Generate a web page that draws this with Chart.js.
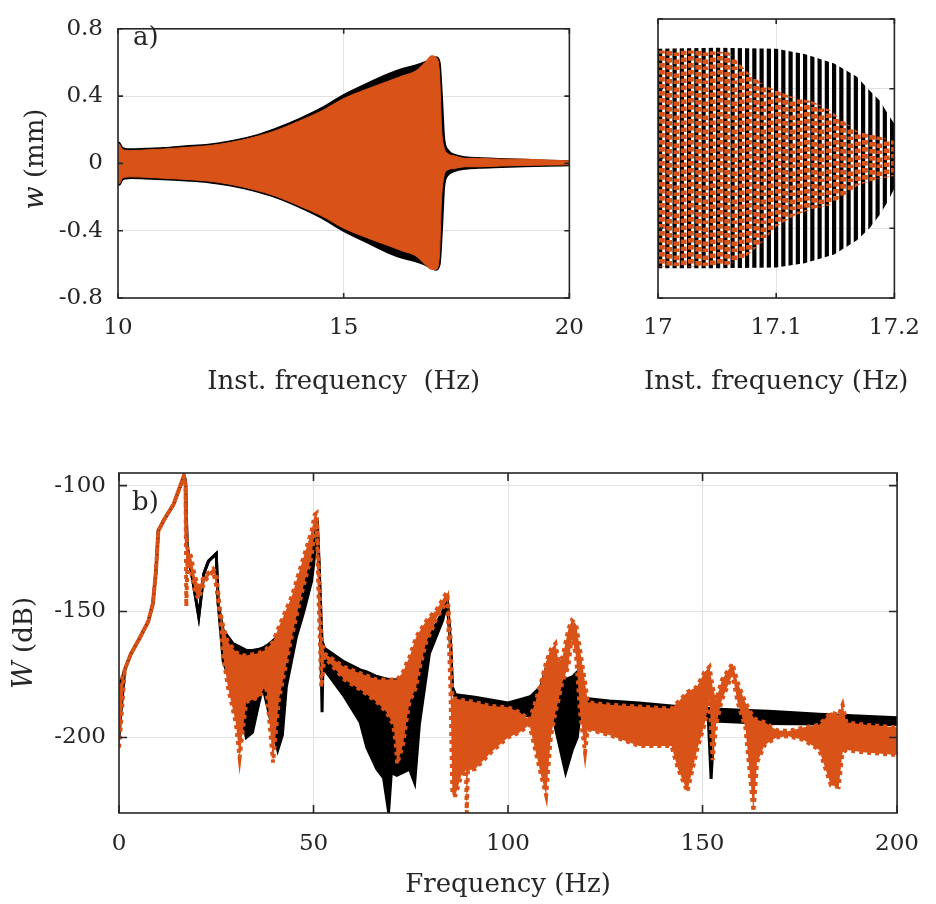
<!DOCTYPE html>
<html>
<head>
<meta charset="utf-8">
<title>Sweep response and spectrum</title>
<script src="https://cdn.jsdelivr.net/npm/chart.js@4.4.1/dist/chart.umd.min.js"></script>
<style>
    html, body { margin: 0; padding: 0; background: #fff; }
    #page { position: relative; width: 936px; height: 904px; overflow: hidden; }
    .panel { position: absolute; }
    #panelA { left: 0; top: 0; width: 600px; height: 410px; }
    #panelB { left: 600px; top: 0; width: 336px; height: 410px; }
    #panelC { left: 0; top: 440px; width: 936px; height: 464px; }
</style>
</head>
<body>
<div id="page">
    <div class="panel" id="panelA"><canvas id="sweepChart"></canvas></div>
    <div class="panel" id="panelB"><canvas id="zoomChart"></canvas></div>
    <div class="panel" id="panelC"><canvas id="spectrumChart"></canvas></div>
</div>
<script>
// ---- a) displacement envelope vs instantaneous frequency ----
const sweepFreq = [10, 10.03, 10.08, 10.15, 10.3, 10.6, 11, 11.5, 12, 12.5,
    13, 13.5, 14, 14.5, 15, 15.5, 16, 16.3, 16.6, 16.8,
    16.95, 17.05, 17.12, 17.17, 17.22, 17.3, 17.45, 17.7, 18, 18.5,
    19, 19.5, 20];
const sweepBlackUpper = [0.125, 0.12, 0.095, 0.085, 0.082, 0.085, 0.09, 0.1, 0.11, 0.13,
    0.16, 0.205, 0.26, 0.325, 0.405, 0.47, 0.53, 0.56, 0.58, 0.6,
    0.62, 0.63, 0.6, 0.4, 0.15, 0.08, 0.05, 0.035, 0.03, 0.025,
    0.02, 0.015, 0.012];
const sweepBlackLower = [-0.125, -0.125, -0.1, -0.088, -0.085, -0.088, -0.093, -0.1, -0.11, -0.13,
    -0.16, -0.2, -0.255, -0.32, -0.4, -0.465, -0.53, -0.56, -0.58, -0.6,
    -0.62, -0.63, -0.6, -0.4, -0.14, -0.07, -0.045, -0.03, -0.025, -0.02,
    -0.015, -0.012, -0.01];
const sweepOrangeUpper = [0.12, 0.115, 0.09, 0.078, 0.076, 0.08, 0.085, 0.095, 0.105, 0.125,
    0.155, 0.195, 0.25, 0.31, 0.385, 0.44, 0.49, 0.52, 0.55, 0.6,
    0.64, 0.63, 0.55, 0.2, 0.1, 0.06, 0.045, 0.03, 0.03, 0.025,
    0.025, 0.02, 0.015];
const sweepOrangeLower = [-0.12, -0.12, -0.095, -0.082, -0.08, -0.082, -0.088, -0.095, -0.105, -0.125,
    -0.155, -0.195, -0.25, -0.31, -0.385, -0.44, -0.49, -0.52, -0.55, -0.6,
    -0.63, -0.63, -0.55, -0.2, -0.08, -0.04, -0.03, -0.02, -0.02, -0.015,
    -0.012, -0.01, -0.008];
const sweepFreqTicks = [10, 15, 20];
const sweepFreqLabels = ['10', '15', '20'];
const dispTicks = [-0.8, -0.4, 0, 0.4, 0.8];
const dispTickLabels = ['-0.8', '-0.4', '0', '0.4', '0.8'];

// ---- zoom on 17 - 17.2 Hz ----
const zoomBlackFreq = [17, 17.05, 17.1, 17.124, 17.149, 17.168, 17.179, 17.188, 17.195, 17.2];
const zoomBlackUpper = [0.63, 0.635, 0.63, 0.6, 0.545, 0.47, 0.39, 0.33, 0.25, 0.2];
const zoomBlackLower = [-0.63, -0.63, -0.625, -0.6, -0.55, -0.47, -0.4, -0.32, -0.24, -0.17];
const zoomOrangeFreq = [17, 17.03, 17.06, 17.075, 17.09, 17.1, 17.115, 17.13, 17.145, 17.16, 17.17, 17.185, 17.2];
const zoomOrangeUpper = [0.62, 0.62, 0.61, 0.5, 0.42, 0.39, 0.35, 0.33, 0.28, 0.2, 0.15, 0.13, 0.1];
const zoomOrangeLower = [-0.62, -0.62, -0.61, -0.56, -0.47, -0.39, -0.33, -0.29, -0.27, -0.2, -0.15, -0.12, -0.1];
const zoomFreqTicks = [17, 17.1, 17.2];
const zoomFreqLabels = ['17', '17.1', '17.2'];

// ---- b) spectrum ----
const specBlackFreq = [0, 0.5, 1.5, 3, 5.5, 7.5, 8.7, 9.5, 10.1, 11.6,
    14, 16.7, 17.1, 17.5, 19, 20.5, 21.8, 23, 25, 25.5,
    26.8, 29.3, 31, 32.7, 34.3, 36, 37, 38.5, 40.8, 42,
    43, 45.6, 47.5, 49.5, 50.5, 51, 51.5, 52.2, 52.5, 52.8,
    57.9, 62, 63.7, 66.3, 68, 69.3, 70, 71.4, 74.7, 76,
    77.2, 79.8, 83.2, 84.4, 85.3, 85.7, 86.5, 91.5, 100, 103,
    105.9, 108.4, 110.1, 111, 112, 113.5, 114.8, 116.5, 117.8, 118.6,
    119.5, 126, 133.7, 145.5, 151.5, 152.2, 153, 160, 167, 180,
    200];
const specBlackUpper = [-180, -178, -173, -167, -160, -154, -147, -134, -118, -113.5,
    -107.5, -96.5, -98, -124, -138, -152, -135, -130, -127, -147,
    -157.5, -162.7, -164, -165.4, -165.5, -165, -164.5, -163, -160, -157,
    -154, -146, -137, -124, -114, -114, -134, -162, -163, -164.6,
    -170, -173.2, -174, -175.8, -176.5, -177, -177, -177.2, -174, -170,
    -166, -160, -150, -145, -164, -180, -183, -184, -186.3, -185,
    -183.7, -179.8, -170.6, -166.7, -172, -176, -177, -176, -174, -173.2,
    -184.4, -185.5, -186.3, -188, -188.5, -188.5, -188.7, -189.2, -189.6, -190.8,
    -192.2];
const specBlackLower = [-200, -190, -173, -167, -160, -154, -147, -134, -118, -113.5,
    -107.5, -96.5, -98, -124, -138, -152, -135, -130, -127, -147,
    -170, -180, -186, -200, -198, -186, -180, -190, -205, -199,
    -180, -160, -150, -138, -125, -118, -134, -190, -165, -173,
    -183.7, -194, -204, -212.6, -216, -229.5, -214, -215, -212.6, -218,
    -195, -166.6, -153.5, -146, -166, -181, -184.5, -186, -188.7, -190,
    -192, -188, -180, -176, -195, -205, -213.9, -205, -200, -190,
    -188, -189, -190.5, -192.5, -193, -216.5, -193.5, -194, -194.5, -194.7,
    -194.9];
const specOrangeFreq = [0, 0.5, 1.5, 3, 5.5, 7.5, 8.7, 9.5, 10.1, 11.6,
    14, 16.7, 17.1, 17.3, 17.6, 18.5, 19.5, 20.5, 22, 24.2,
    25, 26, 26.8, 28, 30, 31, 32.7, 36, 37.8, 39.6,
    41.1, 44.4, 47.4, 49.5, 50.3, 50.8, 51.4, 52, 52.8, 57.9,
    62, 66.3, 68.8, 70.5, 71.2, 71.5, 73, 73.9, 74.7, 76.4,
    77.2, 79, 80.5, 81.5, 84, 84.4, 85.2, 85.7, 86.5, 88,
    89.2, 89.4, 89.7, 91.5, 95.6, 100, 103, 105.5, 107, 108.5,
    109.8, 111, 112.2, 113, 114, 115.5, 116.4, 117.5, 118.5, 119.8,
    120.5, 126, 133.7, 142, 143.6, 146.1, 148.6, 150.5, 151.8, 152.6,
    153.5, 155, 157.7, 159, 161, 163.1, 164, 166, 169, 172,
    176, 180, 183, 185, 186, 187, 192, 200];
const specOrangeUpper = [-180, -178, -173, -167, -160, -154, -147, -134, -118, -113.5,
    -107.5, -96, -100, -120, -125, -128, -136, -140, -136, -133,
    -135, -150, -156, -162, -166, -167, -167.5, -166.5, -165, -162,
    -156, -144, -128.6, -118, -111.5, -110.9, -134, -160, -166.6, -172,
    -174.5, -177, -177, -177, -177, -177, -174, -170.6, -168, -160,
    -158, -153.6, -151, -149.6, -143, -142.5, -160, -184.5, -184.5, -185,
    -185.5, -185.5, -185.5, -186, -187.5, -188, -190, -193, -186, -178,
    -170, -165, -162.7, -170, -168, -157, -153.5, -155, -165, -178,
    -186, -187, -187.7, -188.5, -186, -182, -179.8, -174, -171.9, -180,
    -185, -177, -170.6, -178, -186, -192, -193, -194, -197, -197.5,
    -196, -195, -190, -191, -187, -194, -195, -196];
const specOrangeLower = [-204, -195, -173, -167, -160, -154, -147, -134, -118, -113.5,
    -107.5, -96, -100, -148, -130, -134, -142, -145, -138, -134,
    -140, -152, -168, -180, -194, -208, -186, -184, -179, -210,
    -185, -160, -140, -128, -118, -113, -150, -180, -168, -177,
    -181, -186, -190, -195, -203.4, -210.6, -203, -193.4, -186, -180,
    -173, -162, -157, -153, -146.5, -145, -180, -223, -223, -215,
    -213, -230, -213, -212.6, -206, -200, -198, -195, -205, -215,
    -223, -200, -190, -185, -178, -172, -160, -168, -190, -206,
    -196.8, -199, -203.4, -203.4, -212, -221.6, -205, -195, -185, -209,
    -195, -185, -175, -186, -196, -229.5, -210, -203, -200, -199.5,
    -201, -205, -219, -219.7, -206, -205, -206, -207];
const specFreqTicks = [0, 50, 100, 150, 200];
const specFreqLabels = ['0', '50', '100', '150', '200'];
const specDbTicks = [-200, -150, -100];
const specDbLabels = ['-200', '-150', '-100'];

const INK = '#262626';
const GRID = '#e2e2e2';
const ORANGE = '#D95319';
const SERIF = "'DejaVu Serif', serif";

Chart.defaults.font.family = SERIF;
Chart.defaults.color = INK;

// Pair two arrays into {x, y} points
const toPoints = (xs, ys) => xs.map((x, i) => ({ x: x, y: ys[i] }));

// Upper and lower curves of one signal, filled in between
const band = (xs, upper, lower, style) => [
    Object.assign({ data: toPoints(xs, upper), fill: '+1' }, style),
    Object.assign({ data: toPoints(xs, lower), fill: false }, style)
];

// Vertical stripes for the black oscillation in the zoom panel
const stripePattern = (ctx) => {
    const tile = document.createElement('canvas');
    tile.width = 29;
    tile.height = 4;
    const t = tile.getContext('2d');
    t.fillStyle = '#000';
    for (let k = 0; k < 4; k++) t.fillRect(k * 7.25, 0, 4.2, 4);
    return ctx.createPattern(tile, 'repeat');
};

// Square dots of the orange dotted curve in the zoom panel
const dotPattern = (ctx) => {
    const tile = document.createElement('canvas');
    tile.width = 29;
    tile.height = 14;
    const t = tile.getContext('2d');
    t.fillStyle = ORANGE;
    const shifts = [0, 2, 3.5, 1.5];
    for (let k = 0; k < 4; k++) {
        for (let r = 0; r < 2; r++) {
            t.fillRect(k * 7.25 + 1, r * 7 + shifts[k], 5.8, 4.6);
        }
    }
    return ctx.createPattern(tile, 'repeat');
};

// Box, inward ticks, y label with italic symbol, panel tag
const axesFrame = {
    id: 'axesFrame',
    afterDatasetsDraw(chart, args, opts) {
        const { ctx, chartArea: a, scales } = chart;
        const len = opts.tickLength || 6;
        ctx.save();
        ctx.strokeStyle = INK;
        ctx.lineWidth = 1.6;
        ctx.beginPath();
        scales.x.ticks.forEach(t => {
            const px = scales.x.getPixelForValue(t.value);
            ctx.moveTo(px, a.bottom); ctx.lineTo(px, a.bottom - len);
            ctx.moveTo(px, a.top); ctx.lineTo(px, a.top + len);
        });
        scales.y.ticks.forEach(t => {
            const py = scales.y.getPixelForValue(t.value);
            ctx.moveTo(a.left, py); ctx.lineTo(a.left + len, py);
            ctx.moveTo(a.right, py); ctx.lineTo(a.right - len, py);
        });
        ctx.stroke();
        ctx.strokeRect(a.left, a.top, a.right - a.left, a.bottom - a.top);
        ctx.restore();
    },
    afterDraw(chart, args, opts) {
        const { ctx, chartArea: a } = chart;
        ctx.save();
        ctx.fillStyle = INK;
        if (opts.yTitle) {
            const [sym, rest] = opts.yTitle;
            const italic = 'italic 27px ' + SERIF;
            const normal = '26px ' + SERIF;
            ctx.font = italic;
            const w1 = ctx.measureText(sym).width;
            ctx.font = normal;
            const w2 = ctx.measureText(rest).width;
            ctx.translate(opts.yTitleX, opts.yTitleY);
            ctx.rotate(-Math.PI / 2);
            ctx.textBaseline = 'middle';
            ctx.textAlign = 'left';
            ctx.font = italic;
            ctx.fillText(sym, -(w1 + w2) / 2, 0);
            ctx.font = normal;
            ctx.fillText(rest, -(w1 + w2) / 2 + w1, 0);
            ctx.setTransform(1, 0, 0, 1, 0, 0);
        }
        if (opts.xTitle) {
            // drawn here so the text is not squeezed to the narrow plot width
            ctx.font = '26px ' + SERIF;
            ctx.textBaseline = 'middle';
            ctx.textAlign = 'center';
            ctx.fillText(opts.xTitle, (a.left + a.right) / 2, opts.xTitleY);
        }
        if (opts.tag) {
            ctx.font = '26px ' + SERIF;
            ctx.textBaseline = 'alphabetic';
            ctx.textAlign = 'left';
            ctx.fillText(opts.tag, opts.tagX, opts.tagY);
        }
        ctx.restore();
    }
};

// Linear axis with fixed ticks and a fixed box size
const axis = (cfg) => ({
    type: 'linear',
    min: cfg.min,
    max: cfg.max,
    afterBuildTicks: s => { s.ticks = cfg.ticks.map(v => ({ value: v })); },
    afterFit: s => { if (cfg.width !== undefined) s.width = cfg.width; if (cfg.height !== undefined) s.height = cfg.height; },
    grid: { color: GRID, lineWidth: 1, drawTicks: false },
    border: { display: false },
    ticks: {
        display: cfg.labels !== null,
        padding: cfg.pad,
        autoSkip: false,
        maxRotation: 0,
        font: { size: 23 },
        color: INK,
        callback: (v, i) => (cfg.labels ? cfg.labels[i] : '')
    },
    title: cfg.title ? {
        display: true,
        text: cfg.title,
        color: INK,
        font: { size: 26 },
        padding: { top: 0, bottom: cfg.titlePad }
    } : { display: false }
});

const baseOptions = (padding, scales, frame) => ({
    responsive: true,
    maintainAspectRatio: false,
    animation: false,
    devicePixelRatio: 1,
    events: [],
    layout: { padding: padding },
    elements: { point: { radius: 0 } },
    plugins: { legend: { display: false }, tooltip: { enabled: false }, axesFrame: frame },
    scales: scales
});

document.addEventListener('DOMContentLoaded', () => {
    // a) time signal envelope
    new Chart(document.getElementById('sweepChart'), {
        type: 'line',
        plugins: [axesFrame],
        data: {
            datasets: [
                ...band(sweepFreq, sweepOrangeUpper, sweepOrangeLower, {
                    order: 0, backgroundColor: ORANGE, borderColor: ORANGE, borderWidth: 1,
                    cubicInterpolationMode: 'monotone', clip: 0
                }),
                ...band(sweepFreq, sweepBlackUpper, sweepBlackLower, {
                    order: 1, backgroundColor: '#000', borderColor: '#000', borderWidth: 2.5,
                    cubicInterpolationMode: 'monotone', clip: 0
                })
            ]
        },
        options: baseOptions({ top: 19, right: 27, bottom: 0, left: 0 }, {
            x: axis({ min: 10, max: 20, ticks: sweepFreqTicks, labels: sweepFreqLabels, pad: 16,
                height: 112, title: 'Inst. frequency  (Hz)', titlePad: 12 }),
            y: axis({ min: -0.8, max: 0.8, ticks: dispTicks, labels: dispTickLabels, pad: 15, width: 118 })
        }, { tickLength: 5, yTitle: ['w', ' (mm)'], yTitleX: 36, yTitleY: 159, tag: 'a)', tagX: 133, tagY: 45 })
    });

    // zoom on the jump region
    const zoomCtx = document.getElementById('zoomChart').getContext('2d');
    new Chart(zoomCtx, {
        type: 'line',
        plugins: [axesFrame],
        data: {
            datasets: [
                ...band(zoomOrangeFreq, zoomOrangeUpper, zoomOrangeLower, {
                    order: 0, backgroundColor: dotPattern(zoomCtx), borderWidth: 0, clip: 0
                }),
                ...band(zoomBlackFreq, zoomBlackUpper, zoomBlackLower, {
                    order: 1, backgroundColor: stripePattern(zoomCtx), borderWidth: 0, clip: 0
                })
            ]
        },
        options: baseOptions({ top: 19, right: 36, bottom: 0, left: 58 }, {
            x: axis({ min: 17, max: 17.2, ticks: zoomFreqTicks, labels: zoomFreqLabels, pad: 16,
                height: 112 }),
            y: axis({ min: -0.8, max: 0.8, ticks: dispTicks, labels: null, pad: 0, width: 0 })
        }, { tickLength: 5, xTitle: 'Inst. frequency (Hz)', xTitleY: 382 })
    });

    // b) spectrum
    new Chart(document.getElementById('spectrumChart'), {
        type: 'line',
        plugins: [axesFrame],
        data: {
            datasets: [
                ...band(specOrangeFreq, specOrangeUpper, specOrangeLower, {
                    order: 0, backgroundColor: ORANGE, borderColor: ORANGE, borderWidth: 4,
                    borderDash: [4, 4], borderCapStyle: 'butt', clip: 0
                }),
                ...band(specBlackFreq, specBlackUpper, specBlackLower, {
                    order: 1, backgroundColor: '#000', borderColor: '#000', borderWidth: 3, clip: 0
                })
            ]
        },
        options: baseOptions({ top: 33, right: 25, bottom: 0, left: 0 }, {
            x: axis({ min: 0, max: 200, ticks: specFreqTicks, labels: specFreqLabels, pad: 17,
                height: 91, title: 'Frequency (Hz)', titlePad: 3 }),
            y: axis({ min: -230, max: -95, ticks: specDbTicks, labels: specDbLabels, pad: 13, width: 119 })
        }, { tickLength: 8, yTitle: ['W', ' (dB)'], yTitleX: 25, yTitleY: 203, tag: 'b)', tagX: 132, tagY: 70 })
    });
});
</script>
</body>
</html>
